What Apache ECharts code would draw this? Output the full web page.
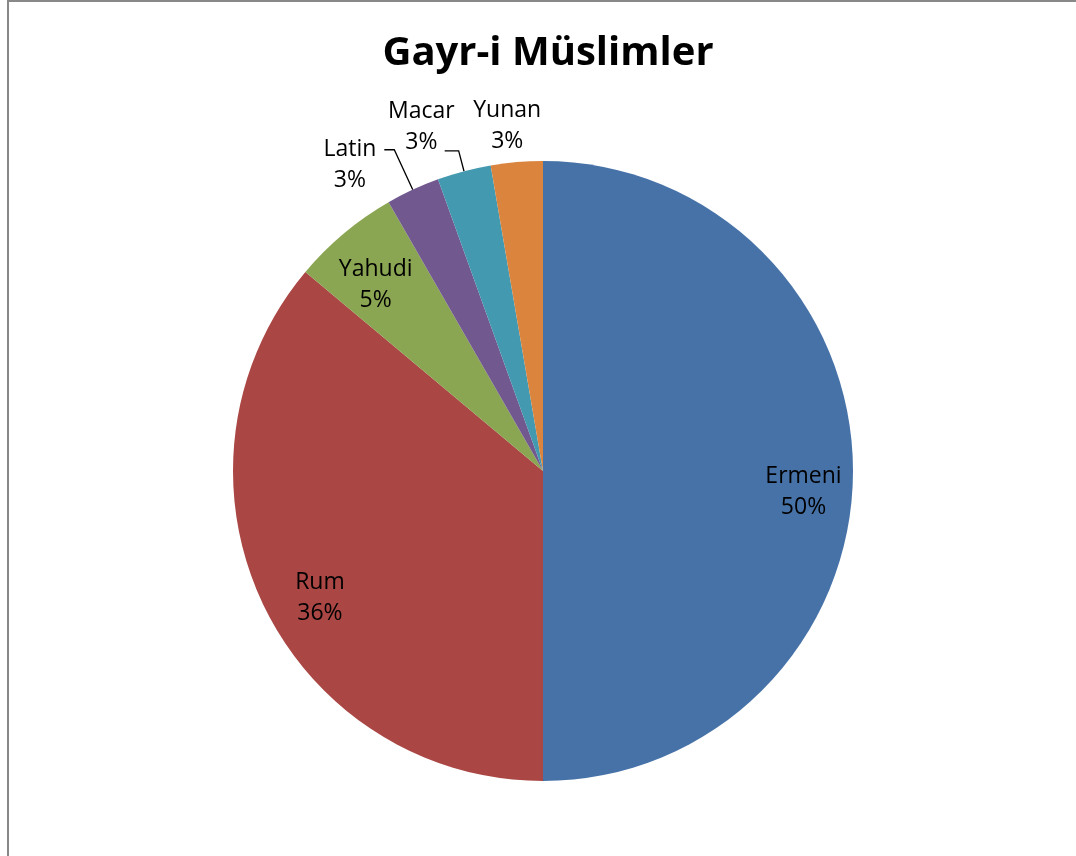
<!DOCTYPE html>
<html><head><meta charset="utf-8">
<script src="https://cdn.jsdelivr.net/npm/echarts@6/dist/echarts.min.js"></script>
<style>
html,body{margin:0;padding:0;background:#fff;overflow:hidden;}
#chart{position:absolute;left:0;top:0;width:1076px;height:856px;}
#frame{position:absolute;left:7px;top:0px;width:1200px;height:1000px;border:2px solid #888888;pointer-events:none;}
</style></head><body>
<div id="chart"></div><div id="frame"></div>
<script>
// ---- data ----
const titleText = 'Gayr-i Müslimler';
const categories = ['Ermeni', 'Rum', 'Yahudi', 'Latin', 'Macar', 'Yunan'];
const values = [50.0, 36.1, 5.6, 2.8, 2.8, 2.7];

// ---- styles ----
const colors = ['#4672A8', '#AA4744', '#8AA652', '#71598F', '#4399B0', '#DB843D'];
const FONT = '"Open Sans", Lato, sans-serif';
// labels drawn inside the slices (padding only nudges them)
const insideLabelStyle = {
  Ermeni: { padding: [42, 0, 0, 0] },
  Rum:    { padding: [34, 0, 0, 26] },
  Yahudi: { padding: [28, 0, 0, 0] }
};
// labels drawn outside with leader lines
const outsideLabelStyle = {
  Latin: { length: 44, length2: 10, dist: 8,   padding: [30, 0, 0, 0], line: true },
  Macar: { length: 21, length2: 14, dist: -10, padding: [0, 0, 48, 0], line: true },
  Yunan: { length: 30, length2: 0,  dist: -27, padding: [0, 0, 12, 0], line: false }
};

const richText = { c: { align: 'center', fontFamily: FONT, fontSize: 23, lineHeight: 31, color: '#000' } };
const fmt = '{c|{b}}\n{c|{d}%}';

const mainData = categories.map((name, i) => {
  const o = outsideLabelStyle[name];
  const item = { name: name, value: values[i], itemStyle: { color: colors[i] } };
  if (o) {
    item.label = { show: true, position: 'outside', formatter: fmt, rich: richText,
      distanceToLabelLine: o.dist, padding: o.padding };
    item.labelLine = { show: o.line, length: o.length, length2: o.length2, smooth: false,
      lineStyle: { color: '#000', width: 1.3 } };
  } else {
    item.label = { show: false };
    item.labelLine = { show: false };
  }
  return item;
});

const carrierData = categories.map((name, i) => {
  const s = insideLabelStyle[name];
  return {
    name: name, value: values[i],
    label: s ? { show: true, position: 'inside', formatter: fmt, rich: richText, padding: s.padding }
             : { show: false }
  };
});

const chart = echarts.init(document.getElementById('chart'), null, { renderer: 'canvas' });
chart.setOption({
  animation: false,
  backgroundColor: '#fff',
  title: {
    text: titleText, left: 543, top: 29, textAlign: 'center',
    textStyle: { fontFamily: FONT, fontWeight: 'bold', fontSize: 40, color: '#000' }
  },
  series: [
    {
      type: 'pie', name: 'main', center: [543, 471], radius: [0, 310],
      startAngle: 90, clockwise: true, percentPrecision: 0,
      avoidLabelOverlap: false, silent: true,
      emphasis: { disabled: true },
      data: mainData
    },
    {
      type: 'pie', name: 'labels', center: [543, 471], radius: [0, 515],
      startAngle: 90, clockwise: true, percentPrecision: 0,
      avoidLabelOverlap: false, silent: true,
      emphasis: { disabled: true },
      itemStyle: { color: 'rgba(0,0,0,0)' },
      labelLine: { show: false },
      data: carrierData
    }
  ]
});
</script>
</body></html>
